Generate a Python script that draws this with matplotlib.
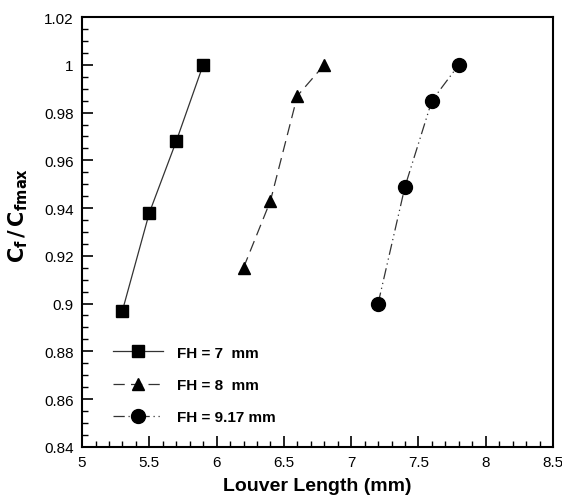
import matplotlib
matplotlib.use("Agg")
import matplotlib.pyplot as plt
from matplotlib.ticker import MultipleLocator

plt.rcParams['font.family'] = ['Liberation Sans', 'DejaVu Sans']

x_fh7 = [5.3, 5.5, 5.7, 5.9]
y_fh7 = [0.897, 0.938, 0.968, 1.0]
x_fh8 = [6.2, 6.4, 6.6, 6.8]
y_fh8 = [0.915, 0.943, 0.987, 1.0]
x_fh9 = [7.2, 7.4, 7.6, 7.8]
y_fh9 = [0.900, 0.949, 0.985, 1.0]
labels = ["FH = 7  mm", "FH = 8  mm", "FH = 9.17 mm"]

fig = plt.figure(figsize=(5.62, 5.02), dpi=100)
ax = fig.add_axes([0.146, 0.108, 0.838, 0.856])

lc = '#333333'
ax.plot(x_fh7, y_fh7, color=lc, lw=0.9, ls='-', marker='s', ms=8,
        mfc='black', mec='black', label=labels[0])
ax.plot(x_fh8, y_fh8, color=lc, lw=0.9, ls=(0, (9, 5)), marker='^', ms=8,
        mfc='black', mec='black', label=labels[1])
ax.plot(x_fh9, y_fh9, color=lc, lw=0.9, ls=(0, (9, 3, 1, 3, 1, 3)), marker='o', ms=10,
        mfc='black', mec='black', label=labels[2])

ax.set_xlim(5, 8.5)
ax.set_ylim(0.84, 1.02)
ax.xaxis.set_major_locator(MultipleLocator(0.5))
ax.xaxis.set_minor_locator(MultipleLocator(0.1))
ax.yaxis.set_major_locator(MultipleLocator(0.02))
ax.yaxis.set_minor_locator(MultipleLocator(0.005))

def fmt(v, pos):
    return ('%.2f' % v).rstrip('0').rstrip('.')
ax.xaxis.set_major_formatter(plt.FuncFormatter(fmt))
ax.yaxis.set_major_formatter(plt.FuncFormatter(fmt))

ax.tick_params(which='major', direction='in', length=8, width=1.2, labelsize=11, pad=6)
ax.tick_params(which='minor', direction='in', length=4, width=1.0)
for sp in ax.spines.values():
    sp.set_linewidth(1.5)

ax.set_xlabel('Louver Length (mm)', fontsize=14, fontweight='bold', labelpad=6)
ax.set_ylabel(r'$\mathbf{C_{f}\,/\,C_{fmax}}$', fontsize=15, fontweight='bold')
ax.yaxis.set_label_coords(-0.11, 0.54)

leg = ax.legend(loc='lower left', bbox_to_anchor=(0.036, 0.02), frameon=False,
                prop={'weight': 'bold', 'size': 11}, handlelength=3.3,
                handletextpad=0.9, labelspacing=1.2)

fig.savefig('out.png', dpi=100)
